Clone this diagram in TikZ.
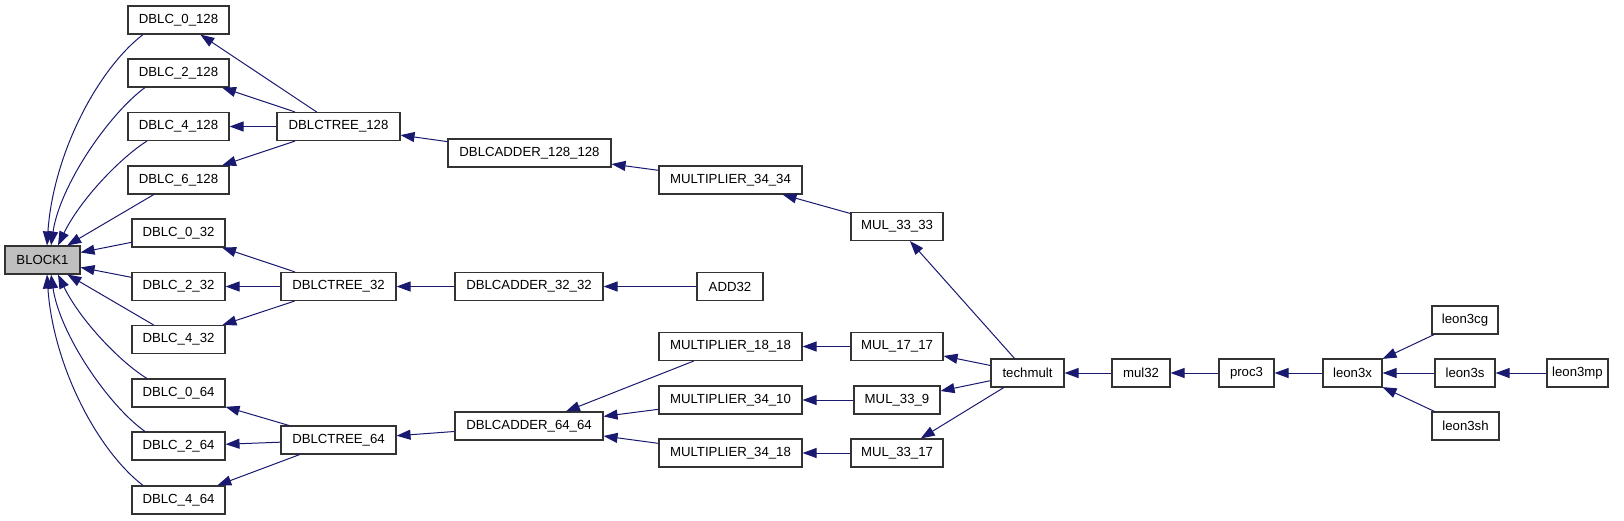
\documentclass[tikz,border=0pt]{standalone}
\usepackage{fontspec}
\setmainfont{Liberation Sans}
\usetikzlibrary{arrows.meta}
\definecolor{navy}{RGB}{25,25,112}
\begin{document}
\begin{tikzpicture}[x=1pt,y=-1pt,
  box/.style={draw=black!80, line width=1.1pt, fill=white, minimum height=28pt, inner sep=0pt, font=\fontsize{13.2}{15}\selectfont},
  conn/.style={draw=navy, line width=1pt, {Triangle[length=14pt,width=10pt]}-}]
\useasboundingbox (0,0) rectangle (1624,520);
% nodes
\node[box, minimum width=75pt, fill=black!25] (block) at (42.5,260) {BLOCK1};
\node[box, minimum width=101pt] (d0128) at (178.5,20) {DBLC\_0\_128};
\node[box, minimum width=101pt] (d2128) at (178.5,73) {DBLC\_2\_128};
\node[box, minimum width=101pt] (d4128) at (178.5,126.5) {DBLC\_4\_128};
\node[box, minimum width=101pt] (d6128) at (178.5,180) {DBLC\_6\_128};
\node[box, minimum width=93pt] (d032) at (178.5,233) {DBLC\_0\_32};
\node[box, minimum width=93pt] (d232) at (178.5,286.5) {DBLC\_2\_32};
\node[box, minimum width=93pt] (d432) at (178.5,339.5) {DBLC\_4\_32};
\node[box, minimum width=93pt] (d064) at (178.5,393) {DBLC\_0\_64};
\node[box, minimum width=93pt] (d264) at (178.5,446) {DBLC\_2\_64};
\node[box, minimum width=93pt] (d464) at (178.5,500) {DBLC\_4\_64};
\node[box, minimum width=123pt] (t128) at (338.5,126.5) {DBLCTREE\_128};
\node[box, minimum width=115pt] (t32) at (338.5,286.5) {DBLCTREE\_32};
\node[box, minimum width=115pt] (t64) at (338.5,440) {DBLCTREE\_64};
\node[box, minimum width=163pt] (a128) at (529.5,153) {DBLCADDER\_128\_128};
\node[box, minimum width=148pt] (a32) at (529,286.5) {DBLCADDER\_32\_32};
\node[box, minimum width=148pt] (a64) at (529,426) {DBLCADDER\_64\_64};
\node[box, minimum width=143pt] (m3434) at (730.5,180) {MULTIPLIER\_34\_34};
\node[box, minimum width=66pt] (add32) at (730,286.5) {ADD32};
\node[box, minimum width=143pt] (m1818) at (730.5,346.5) {MULTIPLIER\_18\_18};
\node[box, minimum width=143pt] (m3410) at (730.5,400) {MULTIPLIER\_34\_10};
\node[box, minimum width=143pt] (m3418) at (730.5,453) {MULTIPLIER\_34\_18};
\node[box, minimum width=92pt] (mul3333) at (897,226.5) {MUL\_33\_33};
\node[box, minimum width=92pt] (mul1717) at (897,346.5) {MUL\_17\_17};
\node[box, minimum width=86pt] (mul339) at (897,400) {MUL\_33\_9};
\node[box, minimum width=92pt] (mul3317) at (897,453) {MUL\_33\_17};
\node[box, minimum width=73pt] (tech) at (1027.5,373) {techmult};
\node[box, minimum width=58pt] (mul32) at (1141,373) {mul32};
\node[box, minimum width=55pt] (proc3) at (1246.5,373) {proc3};
\node[box, minimum width=59pt] (leon3x) at (1352.5,373) {leon3x};
\node[box, minimum width=66pt] (leon3cg) at (1465,320) {leon3cg};
\node[box, minimum width=60pt] (leon3s) at (1465,373) {leon3s};
\node[box, minimum width=67pt] (leon3sh) at (1465.5,426) {leon3sh};
\node[box, minimum width=61pt] (leon3mp) at (1577.5,373) {leon3mp};
% curved edges into BLOCK1
\draw[conn] ([xshift=4.5pt]block.north) .. controls (53,156) and (96,71) .. ([xshift=-35.5pt]d0128.south);
\draw[conn] ([xshift=8.5pt]block.north) .. controls (60,185) and (109,114) .. ([xshift=-33.5pt]d2128.south);
\draw[conn] ([xshift=15.5pt]block.north) .. controls (80,200) and (120,158) .. ([xshift=-31.5pt]d4128.south);
\draw[conn] ([xshift=15.5pt]block.south) .. controls (80,320) and (120,362) .. ([xshift=-31.5pt]d064.north);
\draw[conn] ([xshift=8.5pt]block.south) .. controls (60,335) and (109,406) .. ([xshift=-33.5pt]d264.north);
\draw[conn] ([xshift=4.5pt]block.south) .. controls (53,364) and (96,449) .. ([xshift=-35.5pt]d464.north);
% straight edges into BLOCK1
\draw[conn] (block) -- (d6128);
\draw[conn] (block) -- (d032);
\draw[conn] (block) -- (d232);
\draw[conn] (block) -- (d432);
% trees
\draw[conn] (d0128) -- (t128);
\draw[conn] (d2128) -- (t128);
\draw[conn] (d4128) -- (t128);
\draw[conn] (d6128) -- (t128);
\draw[conn] (d032) -- (t32);
\draw[conn] (d232) -- (t32);
\draw[conn] (d432) -- (t32);
\draw[conn] (d064) -- (t64);
\draw[conn] (d264) -- (t64);
\draw[conn] (d464) -- (t64);
% adders
\draw[conn] (t128) -- (a128);
\draw[conn] (t32) -- (a32);
\draw[conn] (t64) -- (a64);
\draw[conn] (a128) -- (m3434);
\draw[conn] (a32) -- (add32);
\draw[conn] (a64) -- (m1818);
\draw[conn] (a64) -- (m3410);
\draw[conn] (a64) -- (m3418);
% multipliers
\draw[conn] (m3434) -- (mul3333);
\draw[conn] (m1818) -- (mul1717);
\draw[conn] (m3410) -- (mul339);
\draw[conn] (m3418) -- (mul3317);
\draw[conn] (mul3333) -- (tech);
\draw[conn] (mul1717) -- (tech);
\draw[conn] (mul339) -- (tech);
\draw[conn] (mul3317) -- (tech);
% chain
\draw[conn] (tech) -- (mul32);
\draw[conn] (mul32) -- (proc3);
\draw[conn] (proc3) -- (leon3x);
\draw[conn] (leon3x) -- (leon3cg);
\draw[conn] (leon3x) -- (leon3s);
\draw[conn] (leon3x) -- (leon3sh);
\draw[conn] (leon3s) -- (leon3mp);
\end{tikzpicture}
\end{document}
